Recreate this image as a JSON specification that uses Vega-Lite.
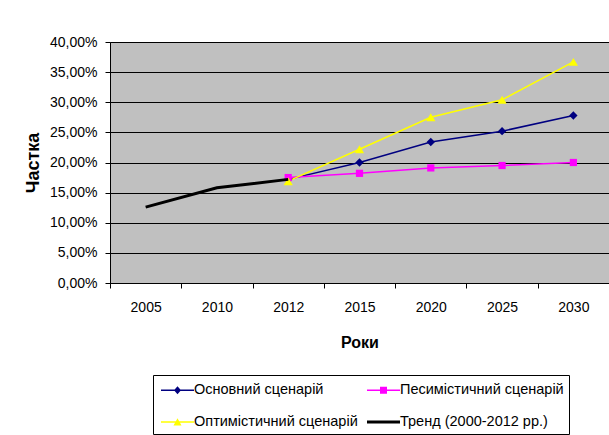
{
  "$schema": "https://vega.github.io/schema/vega-lite/v6.json",
  "width": 499,
  "height": 241,
  "autosize": "none",
  "padding": {"left": 110, "top": 42, "right": 0, "bottom": 152},
  "background": "white",
  "data": {
    "values": [
      {"year": "2012", "series": "Основний сценарій", "value": 0.172},
      {"year": "2015", "series": "Основний сценарій", "value": 0.200},
      {"year": "2020", "series": "Основний сценарій", "value": 0.234},
      {"year": "2025", "series": "Основний сценарій", "value": 0.252},
      {"year": "2030", "series": "Основний сценарій", "value": 0.278},
      {"year": "2012", "series": "Песимістичний сценарій", "value": 0.175},
      {"year": "2015", "series": "Песимістичний сценарій", "value": 0.182},
      {"year": "2020", "series": "Песимістичний сценарій", "value": 0.191},
      {"year": "2025", "series": "Песимістичний сценарій", "value": 0.195},
      {"year": "2030", "series": "Песимістичний сценарій", "value": 0.200},
      {"year": "2012", "series": "Оптимістичний сценарій", "value": 0.169},
      {"year": "2015", "series": "Оптимістичний сценарій", "value": 0.222},
      {"year": "2020", "series": "Оптимістичний сценарій", "value": 0.275},
      {"year": "2025", "series": "Оптимістичний сценарій", "value": 0.304},
      {"year": "2030", "series": "Оптимістичний сценарій", "value": 0.367},
      {"year": "2005", "series": "Тренд (2000-2012 рр.)", "value": 0.126},
      {"year": "2010", "series": "Тренд (2000-2012 рр.)", "value": 0.158},
      {"year": "2012", "series": "Тренд (2000-2012 рр.)", "value": 0.172}
    ]
  },
  "encoding": {
    "x": {
      "field": "year",
      "type": "ordinal",
      "sort": ["2005", "2010", "2012", "2015", "2020", "2025", "2030"],
      "scale": {"type": "band", "paddingInner": 0, "paddingOuter": 0},
      "bandPosition": 0.5,
      "title": "Роки",
      "axis": {
        "tickBand": "extent",
        "grid": false,
        "labelAngle": 0,
        "domainColor": "#000000",
        "tickColor": "#000000",
        "tickSize": 5,
        "labelFontSize": 14,
        "labelColor": "#000000",
        "labelPadding": 12,
        "titleFontSize": 16,
        "titleFontWeight": "bold",
        "titleColor": "#000000",
        "titlePadding": 20
      }
    },
    "y": {
      "field": "value",
      "type": "quantitative",
      "scale": {"domain": [0, 0.4]},
      "title": "Частка",
      "axis": {
        "values": [0, 0.05, 0.1, 0.15, 0.2, 0.25, 0.3, 0.35, 0.4],
        "labelExpr": "replace(format(datum.value, '.2%'), '.', ',')",
        "grid": true,
        "gridColor": "#000000",
        "gridOpacity": 1,
        "gridWidth": 1,
        "domainColor": "#000000",
        "tickColor": "#000000",
        "tickSize": 5,
        "labelFontSize": 14,
        "labelColor": "#000000",
        "labelPadding": 8,
        "titleFontSize": 18,
        "titleFontWeight": "bold",
        "titleColor": "#000000",
        "titlePadding": 7
      }
    }
  },
  "layer": [
    {
      "transform": [{"filter": "datum.series == 'Основний сценарій'"}],
      "mark": {"type": "line", "strokeWidth": 1.5, "color": "#000080"}
    },
    {
      "transform": [{"filter": "datum.series == 'Песимістичний сценарій'"}],
      "mark": {"type": "line", "strokeWidth": 1.5, "color": "#FF00FF"}
    },
    {
      "transform": [{"filter": "datum.series == 'Оптимістичний сценарій'"}],
      "mark": {"type": "line", "strokeWidth": 1.5, "color": "#FFFF00"}
    },
    {
      "transform": [{"filter": "datum.series == 'Основний сценарій'"}],
      "mark": {"type": "point", "shape": "diamond", "filled": true, "size": 70, "color": "#000080", "opacity": 1}
    },
    {
      "transform": [{"filter": "datum.series == 'Песимістичний сценарій'"}],
      "mark": {"type": "point", "shape": "square", "filled": true, "size": 52, "color": "#FF00FF", "opacity": 1}
    },
    {
      "transform": [{"filter": "datum.series == 'Оптимістичний сценарій'"}],
      "mark": {"type": "point", "shape": "triangle-up", "filled": true, "size": 85, "color": "#FFFF00", "opacity": 1}
    },
    {
      "transform": [{"filter": "datum.series == 'Тренд (2000-2012 рр.)'"}],
      "mark": {"type": "line", "strokeWidth": 3, "color": "#000000"}
    },
    {
      "mark": {"type": "point", "filled": true, "opacity": 0, "size": 400},
      "encoding": {
        "color": {
          "field": "series",
          "type": "nominal",
          "sort": ["Основний сценарій", "Песимістичний сценарій", "Оптимістичний сценарій", "Тренд (2000-2012 рр.)"],
          "scale": {
            "domain": ["Основний сценарій", "Песимістичний сценарій", "Оптимістичний сценарій", "Тренд (2000-2012 рр.)"],
            "range": ["#000080", "#FF00FF", "#FFFF00", "#000000"]
          },
          "legend": {
            "orient": "none",
            "direction": "horizontal",
            "legendX": 43,
            "legendY": 333,
            "columns": 2,
            "title": null,
            "padding": 5,
            "strokeColor": "#000000",
            "fillColor": "#ffffff",
            "symbolSize": 400,
            "symbolStrokeWidth": 0,
            "symbolOpacity": 1,
            "labelFontSize": 14.5,
            "labelColor": "#000000",
            "labelOffset": 16,
            "labelLimit": 400,
            "columnPadding": 6,
            "rowPadding": 15
          }
        },
        "shape": {
          "field": "series",
          "type": "nominal",
          "sort": ["Основний сценарій", "Песимістичний сценарій", "Оптимістичний сценарій", "Тренд (2000-2012 рр.)"],
          "scale": {
            "domain": ["Основний сценарій", "Песимістичний сценарій", "Оптимістичний сценарій", "Тренд (2000-2012 рр.)"],
            "range": [
              "M-0.7,-0.075H2.6V0.075H-0.7Z M0.95,-0.4L1.3,0L0.95,0.4L0.6,0Z",
              "M-0.7,-0.075H2.6V0.075H-0.7Z M0.6,-0.35H1.3V0.35H0.6Z",
              "M-0.7,-0.075H2.6V0.075H-0.7Z M0.95,-0.38L1.35,0.35H0.55Z",
              "M-0.7,-0.15H2.6V0.15H-0.7Z"
            ]
          },
          "legend": {
            "orient": "none",
            "direction": "horizontal",
            "legendX": 43,
            "legendY": 333,
            "columns": 2,
            "title": null,
            "padding": 5,
            "strokeColor": "#000000",
            "fillColor": "#ffffff",
            "symbolSize": 400,
            "symbolStrokeWidth": 0,
            "symbolOpacity": 1,
            "labelFontSize": 14.5,
            "labelColor": "#000000",
            "labelOffset": 16,
            "labelLimit": 400,
            "columnPadding": 6,
            "rowPadding": 15
          }
        }
      }
    }
  ],
  "config": {
    "font": "Liberation Sans, Arial",
    "view": {"fill": "#c0c0c0", "stroke": "#808080", "strokeWidth": 1}
  }
}
